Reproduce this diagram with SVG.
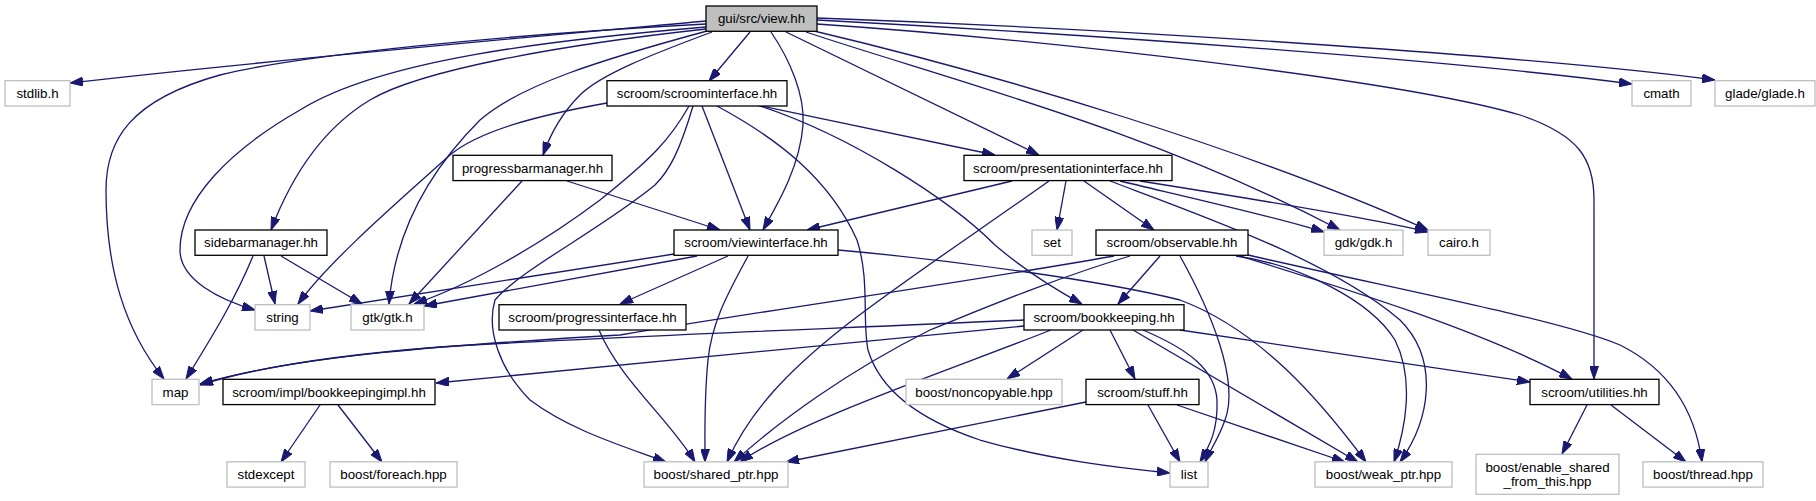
<svg xmlns="http://www.w3.org/2000/svg" width="1816" height="501" viewBox="0 0 1816 501">
<defs>
<marker id="ah" viewBox="0 0 13 9" refX="13" refY="4.5" markerWidth="13" markerHeight="9" markerUnits="userSpaceOnUse" orient="auto">
<path d="M0,0 L13,4.5 L0,9 z" fill="#191970" stroke="#191970" stroke-width="1"/>
</marker>
<style>
.doc rect{fill:#fff;stroke:#000;stroke-width:1.3}
.ext rect{fill:#fff;stroke:#bfbfbf;stroke-width:1.3}
.root rect{fill:#bfbfbf;stroke:#000;stroke-width:1.3}
text{font-family:"Liberation Sans",Arial,sans-serif;font-size:13.3px;fill:#000;text-anchor:middle}
#edges path{fill:none;stroke:#191970;stroke-width:1.3;marker-end:url(#ah)}
</style>
</defs>
<rect width="1816" height="501" fill="#fff"/>
<g id="edges">
<path d="M706,21 C520,38 250,62 70,83"/>
<path d="M706,24 C500,35 300,55 220,75 C130,100 106,140 106,190 C106,270 125,330 164,379"/>
<path d="M706,27 C550,40 380,60 300,110 C230,150 180,200 180,250 C180,280 220,300 255,310"/>
<path d="M706,29 C560,45 420,70 370,100 C320,130 290,180 271,230"/>
<path d="M707,31 C600,60 520,85 480,120 C430,170 395,230 389,304"/>
<path d="M712,32 C650,55 600,75 580,95 C560,115 550,135 543,155"/>
<path d="M750,32 L709,81"/>
<path d="M771,32 C790,60 805,95 803,125 C800,165 780,200 763,230"/>
<path d="M786,32 L1039,155"/>
<path d="M806,32 C950,80 1150,130 1340,230"/>
<path d="M814,31 C1000,75 1250,150 1428,230"/>
<path d="M817,20 C1100,35 1450,60 1632,84"/>
<path d="M817,18 C1150,30 1550,58 1715,80"/>
<path d="M817,24 C1050,40 1400,80 1520,115 C1580,135 1594,160 1594,200 L1594,379"/>
<path d="M607,103 C540,115 480,130 450,155 C400,200 330,260 298,304"/>
<path d="M689,106 C670,140 650,160 600,200 C540,245 470,285 414,304"/>
<path d="M693,106 C680,150 670,170 655,185 C600,230 520,270 495,300 C486,330 500,370 530,400 C570,430 620,445 666,462"/>
<path d="M702,106 L750,230"/>
<path d="M717,106 C780,140 830,180 857,240 C870,280 862,320 868,350 C880,390 920,420 980,440 C1050,460 1120,468 1170,473"/>
<path d="M757,105 C850,135 950,200 995,245 C1030,275 1060,292 1082,304"/>
<path d="M757,105 L995,155"/>
<path d="M522,181 L409,304"/>
<path d="M567,181 L720,230"/>
<path d="M264,256 L275,304"/>
<path d="M281,256 L362,304"/>
<path d="M253,256 C235,300 210,340 186,379"/>
<path d="M1012,181 L807,230"/>
<path d="M1049,181 C980,230 890,290 840,330 C790,370 750,410 727,462"/>
<path d="M1066,181 L1057,230"/>
<path d="M1084,181 L1154,230"/>
<path d="M1120,181 C1200,200 1280,218 1324,232"/>
<path d="M1140,181 C1260,200 1380,220 1428,232"/>
<path d="M1110,181 C1200,215 1330,260 1400,320 C1440,360 1430,420 1400,462"/>
<path d="M674,254 L310,311"/>
<path d="M697,256 L424,306"/>
<path d="M728,256 L620,304"/>
<path d="M748,256 C730,290 712,320 708,360 C704,400 705,430 705,462"/>
<path d="M838,250 C950,260 1100,280 1180,300 C1260,330 1320,400 1366,462"/>
<path d="M1114,256 C950,285 800,305 620,335 C450,345 300,355 200,384"/>
<path d="M1130,256 C1050,280 980,310 930,330 C850,370 780,420 734,462"/>
<path d="M1160,256 L1118,304"/>
<path d="M1180,256 C1210,310 1240,380 1225,420 C1218,440 1210,450 1205,462"/>
<path d="M1236,256 C1300,265 1370,300 1395,340 C1415,380 1405,430 1394,462"/>
<path d="M1240,256 C1350,290 1480,330 1572,379"/>
<path d="M1248,255 C1400,290 1560,320 1620,345 C1670,370 1695,410 1702,462"/>
<path d="M599,330 C620,380 670,420 695,462"/>
<path d="M1024,320 C800,330 600,337 440,347 C350,354 260,366 200,385"/>
<path d="M1024,326 L436,383"/>
<path d="M1051,330 C950,370 800,420 740,462"/>
<path d="M1083,330 L1007,379"/>
<path d="M1110,330 L1135,379"/>
<path d="M1143,330 C1190,350 1215,370 1217,400 C1218,430 1210,445 1200,462"/>
<path d="M1133,330 L1358,462"/>
<path d="M1180,330 L1530,382"/>
<path d="M320,405 L281,462"/>
<path d="M338,405 L382,462"/>
<path d="M1086,402 L786,462"/>
<path d="M1148,405 L1180,462"/>
<path d="M1177,405 L1345,462"/>
<path d="M1587,405 L1562,454"/>
<path d="M1611,405 L1686,462"/>
</g>
<g id="n_view" class="root"><rect x="706" y="6" width="111" height="25.3"/><text x="761.5" y="23.2">gui/src/view.hh</text></g>
<g id="n_stdlib" class="ext"><rect x="5" y="80.7" width="65" height="25.3"/><text x="37.5" y="97.9">stdlib.h</text></g>
<g id="n_scroominterface" class="doc"><rect x="607" y="80.7" width="180" height="25.3"/><text x="697" y="97.9">scroom/scroominterface.hh</text></g>
<g id="n_cmath" class="ext"><rect x="1632" y="80.7" width="59" height="25.3"/><text x="1661.5" y="97.9">cmath</text></g>
<g id="n_glade" class="ext"><rect x="1715" y="80.7" width="100" height="25.3"/><text x="1765" y="97.9">glade/glade.h</text></g>
<g id="n_progressbarmanager" class="doc"><rect x="453" y="155.3" width="159" height="25.3"/><text x="532.5" y="172.5">progressbarmanager.hh</text></g>
<g id="n_presentationinterface" class="doc"><rect x="964" y="155.3" width="208" height="25.3"/><text x="1068" y="172.5">scroom/presentationinterface.hh</text></g>
<g id="n_sidebarmanager" class="doc"><rect x="195" y="230" width="132" height="25.3"/><text x="261" y="247.2">sidebarmanager.hh</text></g>
<g id="n_viewinterface" class="doc"><rect x="674" y="230" width="164" height="25.3"/><text x="756" y="247.2">scroom/viewinterface.hh</text></g>
<g id="n_set" class="ext"><rect x="1032" y="230" width="40" height="25.3"/><text x="1052" y="247.2">set</text></g>
<g id="n_observable" class="doc"><rect x="1096" y="230" width="152" height="25.3"/><text x="1172" y="247.2">scroom/observable.hh</text></g>
<g id="n_gdk" class="ext"><rect x="1324" y="230" width="79" height="25.3"/><text x="1363.5" y="247.2">gdk/gdk.h</text></g>
<g id="n_cairo" class="ext"><rect x="1428" y="230" width="62" height="25.3"/><text x="1459" y="247.2">cairo.h</text></g>
<g id="n_string" class="ext"><rect x="255" y="304.7" width="55" height="25.3"/><text x="282.5" y="321.9">string</text></g>
<g id="n_gtk" class="ext"><rect x="351" y="304.7" width="73" height="25.3"/><text x="387.5" y="321.9">gtk/gtk.h</text></g>
<g id="n_progressinterface" class="doc"><rect x="499" y="304.7" width="187" height="25.3"/><text x="592.5" y="321.9">scroom/progressinterface.hh</text></g>
<g id="n_bookkeeping" class="doc"><rect x="1024" y="304.7" width="160" height="25.3"/><text x="1104" y="321.9">scroom/bookkeeping.hh</text></g>
<g id="n_map" class="ext"><rect x="152" y="379.3" width="47" height="25.3"/><text x="175.5" y="396.5">map</text></g>
<g id="n_bookkeepingimpl" class="doc"><rect x="223" y="379.3" width="212" height="25.3"/><text x="329" y="396.5">scroom/impl/bookkeepingimpl.hh</text></g>
<g id="n_noncopyable" class="ext"><rect x="906" y="379.3" width="156" height="25.3"/><text x="984" y="396.5">boost/noncopyable.hpp</text></g>
<g id="n_stuff" class="doc"><rect x="1086" y="379.3" width="113" height="25.3"/><text x="1142.5" y="396.5">scroom/stuff.hh</text></g>
<g id="n_utilities" class="doc"><rect x="1530" y="379.3" width="129" height="25.3"/><text x="1594.5" y="396.5">scroom/utilities.hh</text></g>
<g id="n_stdexcept" class="ext"><rect x="227" y="461.8" width="78" height="25.3"/><text x="266" y="479">stdexcept</text></g>
<g id="n_foreach" class="ext"><rect x="330" y="461.8" width="127" height="25.3"/><text x="393.5" y="479">boost/foreach.hpp</text></g>
<g id="n_shared_ptr" class="ext"><rect x="644" y="461.8" width="144" height="25.3"/><text x="716" y="479">boost/shared_ptr.hpp</text></g>
<g id="n_list" class="ext"><rect x="1170" y="461.8" width="38" height="25.3"/><text x="1189" y="479">list</text></g>
<g id="n_weak_ptr" class="ext"><rect x="1315" y="461.8" width="137" height="25.3"/><text x="1383.5" y="479">boost/weak_ptr.hpp</text></g>
<g id="n_enable_shared" class="ext"><rect x="1476" y="454.3" width="143" height="40"/><text x="1547.5" y="471.5">boost/enable_shared</text><text x="1547.5" y="485.7">_from_this.hpp</text></g>
<g id="n_thread" class="ext"><rect x="1643" y="461.8" width="120" height="25.3"/><text x="1703" y="479">boost/thread.hpp</text></g>
</svg>
